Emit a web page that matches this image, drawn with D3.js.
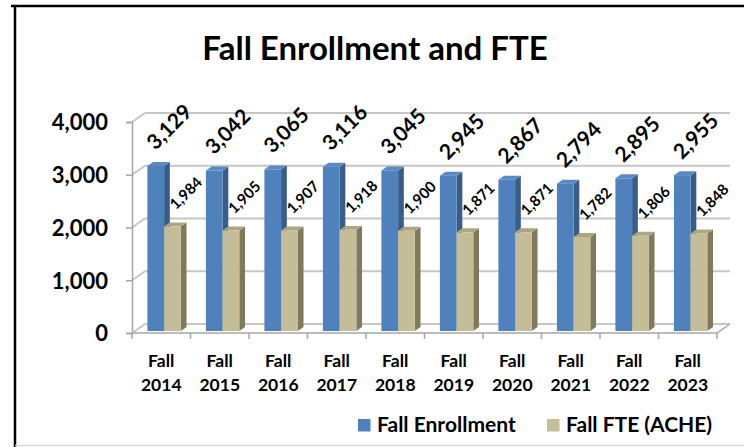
<!DOCTYPE html>
<html lang="en">
<head>
    <meta charset="UTF-8">
    <title>Fall Enrollment and FTE</title>
    <script src="https://d3js.org/d3.v7.min.js"></script>
    <style>
        body { margin: 0; background: #fff; }
        text { font-family: Lato, "Open Sans", sans-serif; font-weight: bold; fill: #000; }
        .grid { stroke: #c6c6c6; stroke-width: 2px; fill: none; }
        .axis-line { stroke: #a6a6a6; stroke-width: 1.5px; fill: none; }
    </style>
</head>
<body>
    <script>
        const categories = ["Fall 2014", "Fall 2015", "Fall 2016", "Fall 2017", "Fall 2018",
                            "Fall 2019", "Fall 2020", "Fall 2021", "Fall 2022", "Fall 2023"];
        const enrollment = [3129, 3042, 3065, 3116, 3045, 2945, 2867, 2794, 2895, 2955];
        const fte = [1984, 1905, 1907, 1918, 1900, 1871, 1871, 1782, 1806, 1848];
        const yTicks = [0, 1000, 2000, 3000, 4000];
        const seriesNames = ["Fall Enrollment", "Fall FTE (ACHE)"];

        const W = 744, H = 447;
        // depth of the 3D box, and front/back planes of the bars as fractions of it
        const DX = 13, DY = 9, f0 = 0.22, f1 = 0.66;

        const svg = d3.select("body").append("svg")
            .attr("width", W)
            .attr("height", H);

        // frame
        svg.append("line").attr("x1", 11).attr("x2", W).attr("y1", 6).attr("y2", 6)
            .attr("stroke", "#000").attr("stroke-width", 2.5);
        svg.append("line").attr("x1", 15).attr("x2", 15).attr("y1", 6).attr("y2", H)
            .attr("stroke", "#000").attr("stroke-width", 2.5);
        svg.append("line").attr("x1", 15).attr("x2", W).attr("y1", 445.5).attr("y2", 445.5)
            .attr("stroke", "#d9d9d9").attr("stroke-width", 1.5);

        svg.append("text")
            .attr("x", 375).attr("y", 60)
            .attr("text-anchor", "middle")
            .style("font-size", "33px")
            .text("Fall Enrollment and FTE");

        const x = d3.scaleBand().domain(categories).range([132, 717]).padding(0);
        const sub = d3.scaleBand().domain(seriesNames)
            .range([12.55, x.bandwidth() - 12.55]).padding(0);
        const y = d3.scaleLinear().domain([0, 4000]).range([333, 122]);

        const xMax = x.range()[1];
        const P = (px, py, f) => [px + DX * f, py - DY * f];
        const line = d3.line();

        // back wall gridlines and side wall diagonals
        const grid = svg.append("g");
        yTicks.forEach(t => {
            grid.append("path").attr("class", "grid")
                .attr("d", line([P(132, y(t), 1), P(xMax, y(t), 1)]));
            grid.append("path").attr("class", "grid")
                .attr("d", line([P(132, y(t), 0), P(132, y(t), 1)]));
        });
        // floor front and right edges
        grid.append("path").attr("class", "axis-line")
            .attr("d", line([P(132, y(0), 0), P(xMax, y(0), 0), P(xMax, y(0), 1)]));

        // y axis
        const yAxis = svg.append("g")
            .attr("transform", "translate(132,0)")
            .call(d3.axisLeft(y).tickValues(yTicks).tickFormat(d3.format(",")).tickSize(6).tickPadding(18));
        yAxis.select(".domain").attr("stroke", "#a6a6a6").attr("stroke-width", 1.5);
        yAxis.selectAll(".tick line").attr("stroke", "#a6a6a6").attr("stroke-width", 1.5);
        yAxis.selectAll(".tick text").style("font-size", "22px").attr("font-family", null).attr("dy", "0.36em");

        // x axis: ticks at category boundaries
        const bounds = categories.map(c => x(c)).concat([xMax]);
        svg.append("g").selectAll("line")
            .data(bounds)
            .join("line")
            .attr("x1", d => d).attr("x2", d => d)
            .attr("y1", y(0)).attr("y2", y(0) + 6)
            .attr("stroke", "#a6a6a6").attr("stroke-width", 1.5);

        const xl = svg.append("g").selectAll("text")
            .data(categories)
            .join("text")
            .attr("text-anchor", "middle")
            .style("font-size", "17.5px");
        xl.append("tspan")
            .attr("x", d => x(d) + x.bandwidth() / 2).attr("y", 367)
            .text(d => d.split(" ")[0]);
        xl.append("tspan")
            .attr("x", d => x(d) + x.bandwidth() / 2).attr("y", 391)
            .text(d => d.split(" ")[1]);

        // bars
        const series = [
            { name: seriesNames[0], values: enrollment, front: "#4f81bd", side: "#385d8a", top: "#5a8ac3", size: 21, dx: 8, dy: 15 },
            { name: seriesNames[1], values: fte, front: "#c4bd97", side: "#7f7a5c", top: "#aca582", size: 15, dx: 12, dy: 16 }
        ];

        const bars = svg.append("g");
        categories.forEach((c, i) => {
            series.forEach(s => {
                const x0 = x(c) + sub(s.name), w = sub.bandwidth();
                const v = s.values[i];
                const yv = y(v), yb = y(0);
                const g = bars.append("g");
                g.append("path").attr("fill", s.side)
                    .attr("d", line([P(x0 + w, yv, f0), P(x0 + w, yv, f1), P(x0 + w, yb, f1), P(x0 + w, yb, f0)]) + "Z");
                g.append("path").attr("fill", s.top)
                    .attr("d", line([P(x0, yv, f0), P(x0 + w, yv, f0), P(x0 + w, yv, f1), P(x0, yv, f1)]) + "Z");
                const fl = P(x0, yv, f0);
                g.append("rect").attr("fill", s.front)
                    .attr("x", fl[0]).attr("y", fl[1])
                    .attr("width", w).attr("height", yb - yv);
            });
        });

        // data labels, rotated
        const labels = svg.append("g");
        series.forEach(s => {
            labels.selectAll(null)
                .data(categories)
                .join("text")
                .style("font-size", s.size + "px")
                .attr("transform", (c, i) => {
                    const p = P(x(c) + sub(s.name), y(s.values[i]), f0);
                    return `translate(${p[0] + s.dx},${p[1] - s.dy}) rotate(-45)`;
                })
                .text((c, i) => d3.format(",")(s.values[i]));
        });

        // legend
        const legend = svg.append("g");
        const legendX = [358, 547];
        series.forEach((s, i) => {
            legend.append("rect")
                .attr("x", legendX[i]).attr("y", 419)
                .attr("width", 12.5).attr("height", 12.5)
                .attr("fill", s.front);
            legend.append("text")
                .attr("x", legendX[i] + 19).attr("y", 432)
                .style("font-size", "21px")
                .text(s.name);
        });
    </script>
</body>
</html>
